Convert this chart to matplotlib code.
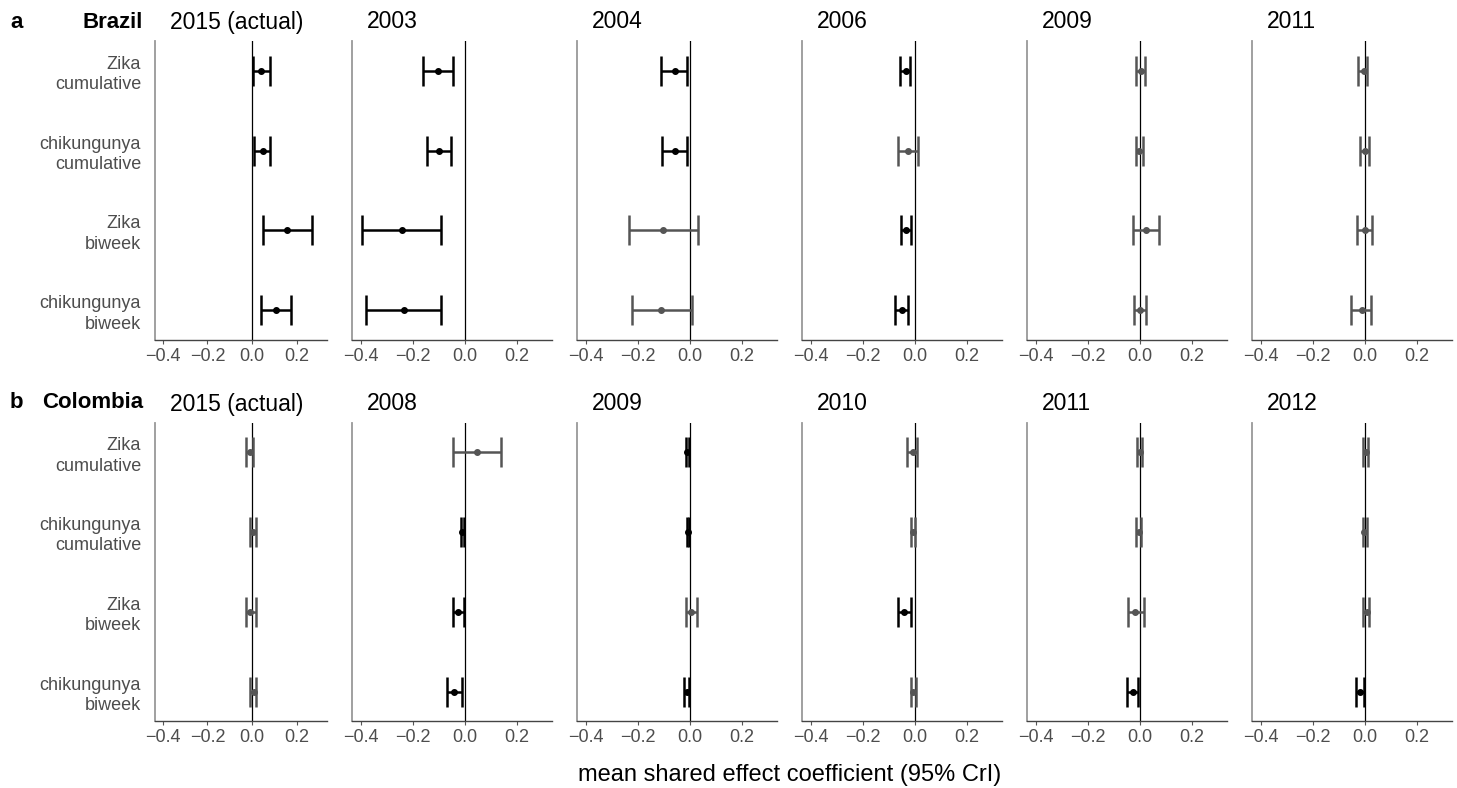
import matplotlib
matplotlib.use("Agg")
import matplotlib.pyplot as plt
import numpy as np

plt.rcParams['font.family'] = ['Liberation Sans', 'DejaVu Sans']

# outcome labels, top to bottom
outcomes = ["Zika\ncumulative", "chikungunya\ncumulative", "Zika\nbiweek", "chikungunya\nbiweek"]

# Brazil: years and (mean, lower, upper) per outcome
brazil_years = ["2015 (actual)", "2003", "2004", "2006", "2009", "2011"]
brazil_mean = [
    [0.040, 0.047, 0.155, 0.106],
    [-0.104, -0.101, -0.242, -0.235],
    [-0.059, -0.059, -0.103, -0.111],
    [-0.036, -0.027, -0.034, -0.051],
    [0.003, -0.003, 0.023, 0.001],
    [-0.005, -0.001, 0.001, -0.013],
]
brazil_lo = [
    [0.003, 0.010, 0.050, 0.040],
    [-0.161, -0.148, -0.396, -0.381],
    [-0.110, -0.107, -0.236, -0.225],
    [-0.057, -0.064, -0.053, -0.077],
    [-0.017, -0.017, -0.026, -0.023],
    [-0.026, -0.019, -0.031, -0.055],
]
brazil_hi = [
    [0.079, 0.079, 0.266, 0.176],
    [-0.048, -0.053, -0.091, -0.093],
    [-0.012, -0.012, 0.032, 0.006],
    [-0.018, 0.012, -0.017, -0.027],
    [0.019, 0.010, 0.074, 0.025],
    [0.009, 0.017, 0.027, 0.025],
]

# Colombia
colombia_years = ["2015 (actual)", "2008", "2009", "2010", "2011", "2012"]
colombia_mean = [
    [-0.011, 0.005, -0.010, 0.006],
    [0.046, -0.010, -0.025, -0.042],
    [-0.012, -0.008, 0.005, -0.013],
    [-0.009, -0.008, -0.042, -0.006],
    [0.000, -0.005, -0.018, -0.028],
    [0.004, -0.003, 0.006, -0.021],
]
colombia_lo = [
    [-0.026, -0.010, -0.029, -0.008],
    [-0.046, -0.014, -0.046, -0.068],
    [-0.015, -0.013, -0.017, -0.023],
    [-0.030, -0.016, -0.064, -0.016],
    [-0.010, -0.014, -0.047, -0.049],
    [-0.006, -0.008, -0.006, -0.034],
]
colombia_hi = [
    [0.005, 0.018, 0.015, 0.018],
    [0.140, -0.004, -0.004, -0.012],
    [-0.003, -0.003, 0.026, -0.003],
    [0.006, 0.001, -0.017, 0.004],
    [0.009, 0.005, 0.014, -0.009],
    [0.010, 0.006, 0.017, -0.004],
]

xticks = [-0.4, -0.2, 0.0, 0.2]

W, H = 1457, 788
fig = plt.figure(figsize=(W / 100, H / 100), dpi=100)

lefts = [155, 352, 577, 802, 1027, 1252]
widths = [172, 200, 200, 200, 200, 200]
rows = [(41, 340), (423, 721)]


def draw_panel(ax, mean, lo, hi, show_labels):
    y = np.arange(len(outcomes))
    for i in range(len(outcomes)):
        sig = hi[i] < 0 or lo[i] > 0
        col = "black" if sig else "#555555"
        ax.errorbar(mean[i], y[i], xerr=[[mean[i] - lo[i]], [hi[i] - mean[i]]],
                    fmt="o", color=col, ms=4, lw=1.8, capsize=11, capthick=1.8, zorder=3)
    ax.axvline(0, color="black", lw=0.9, zorder=2)
    ax.set_xlim(-0.435, 0.335)
    ax.set_ylim(len(outcomes) - 1 + 0.37, -0.37)
    ax.set_xticks(xticks)
    ax.set_xticklabels(["\u22120.4", "\u22120.2", "0.0", "0.2"])
    ax.set_yticks(y)
    if show_labels:
        ax.set_yticklabels(outcomes, fontsize=13, color="#4d4d4d", linespacing=1.25)
    else:
        ax.set_yticklabels([])
    ax.tick_params(axis="y", length=0, pad=10)
    ax.tick_params(axis="x", length=3, width=0.8, color="#555555",
                   labelsize=13, labelcolor="#4d4d4d", pad=3)
    for s in ["top", "right"]:
        ax.spines[s].set_visible(False)
    ax.spines["left"].set_color("#999999")
    ax.spines["left"].set_linewidth(1.3)
    ax.spines["bottom"].set_color("#444444")
    ax.spines["bottom"].set_linewidth(1.0)


datasets = [
    (brazil_years, brazil_mean, brazil_lo, brazil_hi),
    (colombia_years, colombia_mean, colombia_lo, colombia_hi),
]

for r, (years, means, los, his) in enumerate(datasets):
    top, bottom = rows[r]
    for c in range(6):
        ax = fig.add_axes([lefts[c] / W, 1 - bottom / H, widths[c] / W, (bottom - top) / H])
        draw_panel(ax, means[c], los[c], his[c], c == 0)
        fig.text((lefts[c] + 15) / W, 1 - (top - 19) / H, years[c],
                 fontsize=16.5, ha="left", va="center")

# row headers
fig.text(10 / W, 1 - 22 / H, "a", fontsize=16, fontweight="bold", va="center")
fig.text(143 / W, 1 - 22 / H, "Brazil", fontsize=16, fontweight="bold", ha="right", va="center")
fig.text(10 / W, 1 - 403 / H, "b", fontsize=16, fontweight="bold", va="center")
fig.text(143 / W, 1 - 403 / H, "Colombia", fontsize=16, fontweight="bold", ha="right", va="center")

fig.text(790 / W, 1 - 775 / H, "mean shared effect coefficient (95% CrI)",
         fontsize=17, ha="center", va="center")

fig.savefig("out.png", dpi=100)
